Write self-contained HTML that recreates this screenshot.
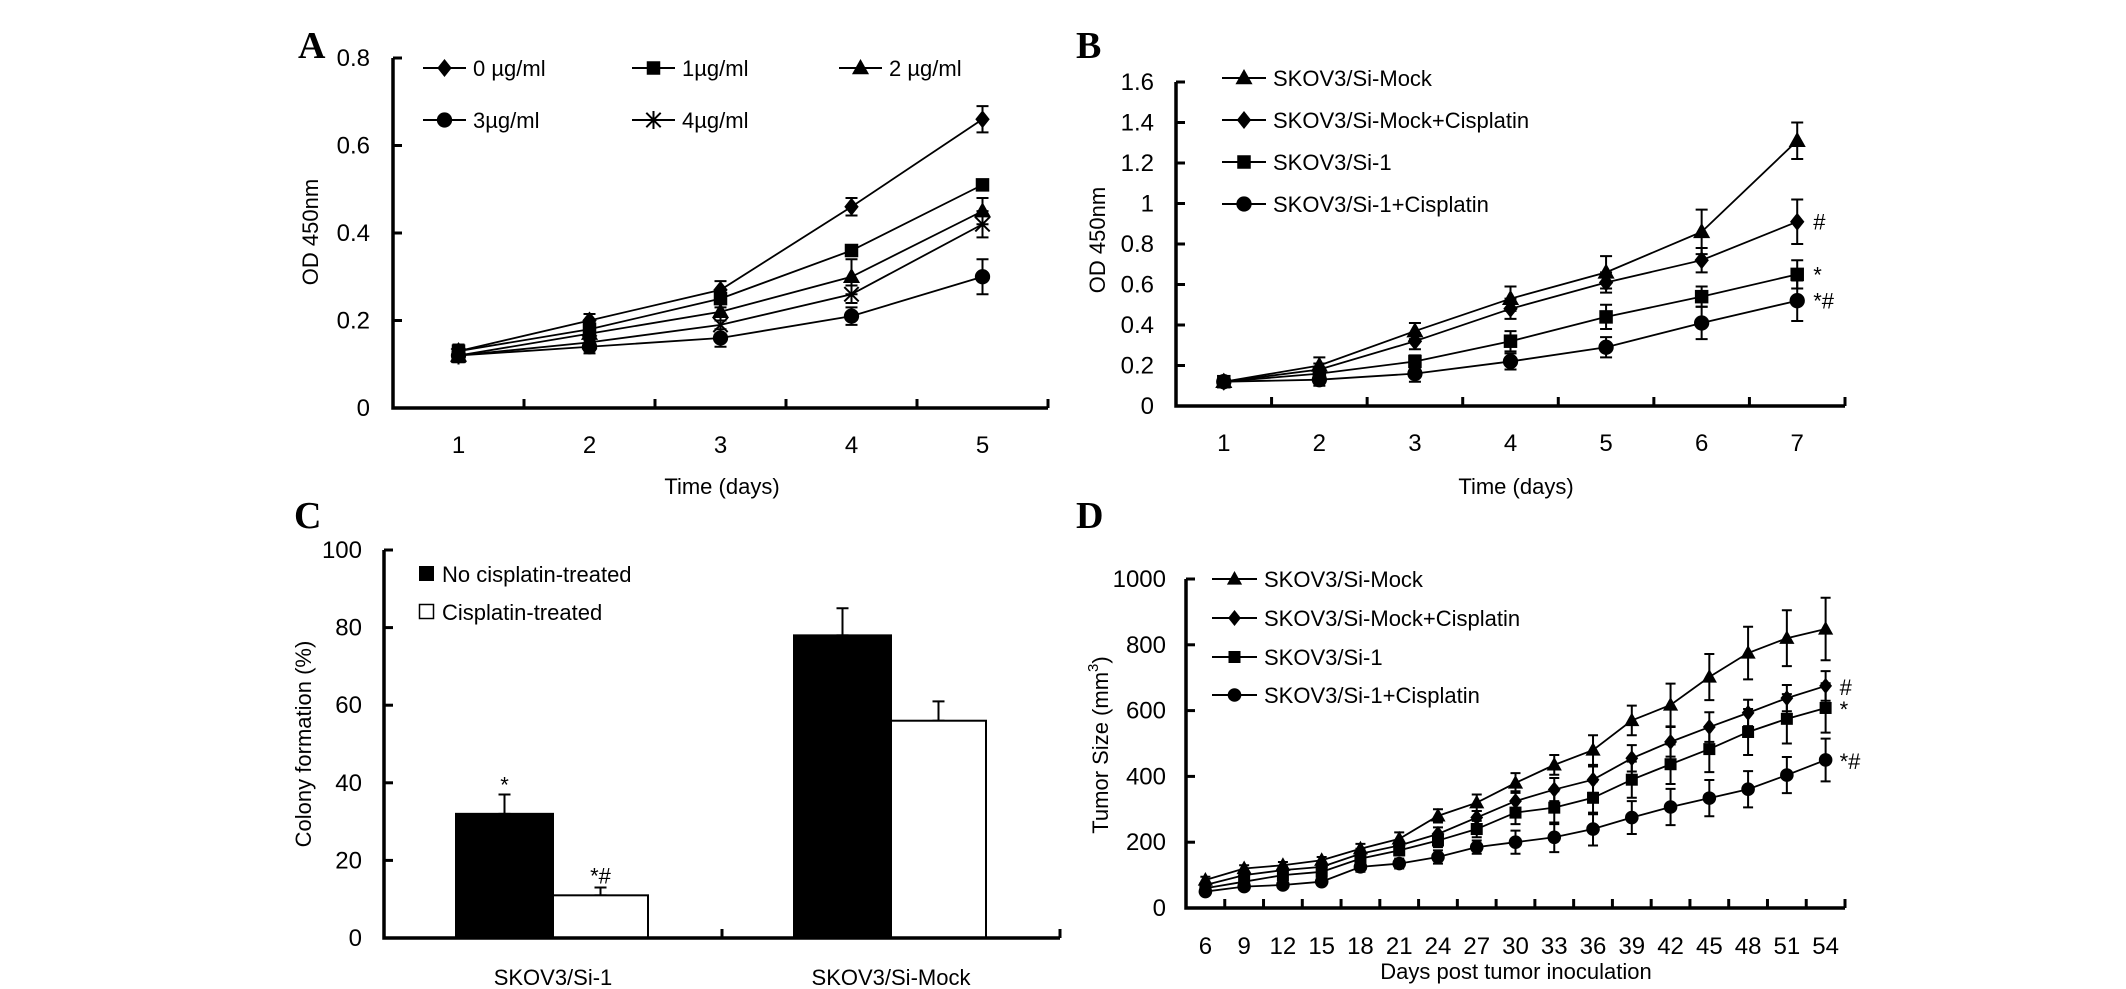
<!DOCTYPE html>
<html><head><meta charset="utf-8">
<style>
html,body{margin:0;padding:0;background:#fff;}
svg{display:block;font-family:"Liberation Sans",Arial,sans-serif;}
.tk{font-size:24px;fill:#000;}
.lg{font-size:22px;fill:#000;}
.ttl{font-size:22px;fill:#000;}
.pl{font-family:"Liberation Serif",serif;font-weight:bold;font-size:38px;fill:#000;}
</style></head>
<body>
<svg id="fig" width="2126" height="989" viewBox="0 0 2126 989" xmlns="http://www.w3.org/2000/svg">
<rect x="0" y="0" width="2126" height="989" fill="#fff"/>
<text class="pl" x="298" y="58">A</text>
<text class="pl" x="1076" y="58">B</text>
<text class="pl" x="294" y="528">C</text>
<text class="pl" x="1076" y="528">D</text>
</svg>
<script>
// ---- Panel A data ----
const aCategories = [1, 2, 3, 4, 5];
const aTicks = [0, 0.2, 0.4, 0.6, 0.8];
const aNames = ["0 µg/ml", "1µg/ml", "2 µg/ml", "3µg/ml", "4µg/ml"];
const aMarkers = ["diamond", "square", "triangle", "circle", "star"];
const a0 = [0.13, 0.20, 0.27, 0.46, 0.66];
const a1 = [0.13, 0.18, 0.25, 0.36, 0.51];
const a2 = [0.12, 0.17, 0.22, 0.30, 0.45];
const a3 = [0.12, 0.14, 0.16, 0.21, 0.30];
const a4 = [0.12, 0.15, 0.19, 0.26, 0.42];
const a0Err = [0.015, 0.015, 0.02, 0.02, 0.03];
const a1Err = [0.015, 0.015, 0.02, 0.01, 0.01];
const a2Err = [0.015, 0.015, 0.02, 0.04, 0.03];
const a3Err = [0.015, 0.015, 0.02, 0.02, 0.04];
const a4Err = [0.015, 0.015, 0.02, 0.02, 0.03];

// ---- Panel B data ----
const bCategories = [1, 2, 3, 4, 5, 6, 7];
const bTicks = [0, 0.2, 0.4, 0.6, 0.8, 1, 1.2, 1.4, 1.6];
const bNames = ["SKOV3/Si-Mock", "SKOV3/Si-Mock+Cisplatin", "SKOV3/Si-1", "SKOV3/Si-1+Cisplatin"];
const bMarkers = ["triangle", "diamond", "square", "circle"];
const bMock = [0.12, 0.20, 0.37, 0.53, 0.66, 0.86, 1.31];
const bMockCis = [0.12, 0.18, 0.32, 0.48, 0.61, 0.72, 0.91];
const bSi1 = [0.12, 0.16, 0.22, 0.32, 0.44, 0.54, 0.65];
const bSi1Cis = [0.12, 0.13, 0.16, 0.22, 0.29, 0.41, 0.52];
const bMockErr = [0.02, 0.04, 0.04, 0.06, 0.08, 0.11, 0.09];
const bMockCisErr = [0.02, 0.03, 0.04, 0.05, 0.05, 0.06, 0.11];
const bSi1Err = [0.02, 0.03, 0.03, 0.05, 0.06, 0.05, 0.07];
const bSi1CisErr = [0.02, 0.03, 0.04, 0.04, 0.05, 0.08, 0.10];
const bNotes = ["", "#", "*", "*#"];

// ---- Panel C data ----
const cCategories = ["SKOV3/Si-1", "SKOV3/Si-Mock"];
const cTicks = [0, 20, 40, 60, 80, 100];
const cNoCis = [32, 78];
const cCis = [11, 56];
const cNoCisErr = [5, 7];
const cCisErr = [2, 5];
const cNoCisNotes = ["*", ""];
const cCisNotes = ["*#", ""];

// ---- Panel D data ----
const dCategories = [6, 9, 12, 15, 18, 21, 24, 27, 30, 33, 36, 39, 42, 45, 48, 51, 54];
const dTicks = [0, 200, 400, 600, 800, 1000];
const dMock = [85, 120, 130, 145, 180, 210, 280, 320, 380, 435, 480, 570, 617, 702, 775, 820, 848];
const dMockCis = [70, 100, 115, 125, 165, 190, 225, 275, 325, 360, 390, 455, 505, 550, 593, 638, 675];
const dSi1 = [60, 80, 100, 110, 150, 175, 205, 240, 290, 305, 335, 390, 437, 483, 535, 575, 608];
const dSi1Cis = [50, 65, 70, 80, 125, 135, 155, 185, 200, 215, 240, 275, 307, 334, 361, 404, 450];
const dMockErr = [10, 10, 10, 10, 15, 20, 20, 25, 30, 30, 45, 45, 65, 70, 80, 85, 95];
const dMockCisErr = [10, 10, 10, 10, 15, 15, 20, 20, 30, 35, 40, 40, 45, 45, 40, 40, 45];
const dSi1Err = [10, 10, 10, 10, 15, 15, 20, 25, 35, 50, 50, 55, 60, 70, 70, 75, 75];
const dSi1CisErr = [10, 10, 10, 10, 15, 15, 20, 20, 35, 45, 50, 50, 55, 55, 55, 55, 65];

const NS = "http://www.w3.org/2000/svg";
const svg = document.getElementById("fig");
function mk(tag, attrs, parent) {
  const e = document.createElementNS(NS, tag);
  for (const k in attrs) e.setAttribute(k, attrs[k]);
  parent.appendChild(e);
  return e;
}
function txt(parent, x, y, s, cls, anchor) {
  const t = mk("text", {x: x, y: y, class: cls, "text-anchor": anchor || "start"}, parent);
  t.textContent = s;
  return t;
}
function marker(parent, type, cx, cy, s) {
  let e;
  if (type === "diamond") e = mk("polygon", {points: `${cx},${cy-s} ${cx+s*0.8},${cy} ${cx},${cy+s} ${cx-s*0.8},${cy}`, fill: "#000"}, parent);
  else if (type === "square") e = mk("rect", {x: cx-s*0.75, y: cy-s*0.75, width: s*1.5, height: s*1.5, fill: "#000"}, parent);
  else if (type === "triangle") e = mk("polygon", {points: `${cx},${cy-s} ${cx+s*0.95},${cy+s*0.7} ${cx-s*0.95},${cy+s*0.7}`, fill: "#000"}, parent);
  else if (type === "circle") e = mk("circle", {cx: cx, cy: cy, r: s*0.85, fill: "#000"}, parent);
  else {
    e = mk("path", {d: `M${cx-s*0.8},${cy-s*0.8}L${cx+s*0.8},${cy+s*0.8}M${cx+s*0.8},${cy-s*0.8}L${cx-s*0.8},${cy+s*0.8}M${cx},${cy-s}L${cx},${cy+s}`, stroke: "#000", "stroke-width": 2, fill: "none"}, parent);
  }
  return e;
}
function errbar(parent, x, y1, y2, cap) {
  return mk("path", {d: `M${x},${y1}L${x},${y2}M${x-cap},${y1}L${x+cap},${y1}M${x-cap},${y2}L${x+cap},${y2}`, stroke: "#000", "stroke-width": 2, fill: "none"}, parent);
}
function axes(parent, x0, x1, y0, yTop, ticks, yScale, fmt, nCat, labelRight) {
  const ax = mk("path", {d: `M${x0},${yTop}L${x0},${y0}L${x1},${y0}`, stroke: "#000", "stroke-width": 3.5, fill: "none"}, parent);
  
  
  ticks.forEach(v => {
    const y = yScale(v);
    mk("line", {x1: x0, x2: x0 + 9, y1: y, y2: y, stroke: "#000", "stroke-width": 3}, parent);
    const t = txt(parent, labelRight, y + 8, fmt(v), "tk", "end");
    
    
  });
  const w = (x1 - x0) / nCat;
  for (let i = 1; i <= nCat; i++) {
    mk("line", {x1: x0 + i*w, x2: x0 + i*w, y1: y0, y2: y0 - 9, stroke: "#000", "stroke-width": 3}, parent);
  }
}
function series(parent, xs, vals, errs, yScale, type, s, cap) {
  const d = vals.map((v, i) => (i ? "L" : "M") + xs(i) + "," + yScale(v)).join("");
  const ln = mk("path", {d: d, stroke: "#000", "stroke-width": 1.8, fill: "none"}, parent);
  
  
  vals.forEach((v, i) => {
    const eb = errbar(parent, xs(i), yScale(v + errs[i]), yScale(v - errs[i]), cap);
    
    
    const m = marker(parent, type, xs(i), yScale(v), s);
    
    
  });
}
function legendEntry(parent, lx1, lx2, y, type, s, label) {
  const g = mk("g", {}, parent);
  
  
  mk("line", {x1: lx1, x2: lx2, y1: y, y2: y, stroke: "#000", "stroke-width": 2}, g);
  marker(g, type, (lx1 + lx2) / 2, y, s);
  txt(g, lx2 + 7, y + 8, label, "lg");
}
function rotTitle(parent, x, y, s) {
  const t = txt(parent, x, y, s, "ttl", "middle");
  t.setAttribute("transform", `rotate(-90 ${x} ${y})`);
  return t;
}

// ================= Panel A =================
const gA = mk("g", {}, svg);


const aX0 = 393, aX1 = 1048, aY0 = 408, aYT = 58;
const yA = v => aY0 - v / 0.8 * (aY0 - aYT);
const xA = i => aX0 + (i + 0.5) * (aX1 - aX0) / aCategories.length;
axes(gA, aX0, aX1, aY0, aYT, aTicks, yA, v => v === 0 ? "0" : v.toFixed(1), aCategories.length, 370);
aCategories.forEach((c, i) => {
  const t = txt(gA, xA(i), 453, String(c), "tk", "middle");
  
  
});
const aXT = txt(gA, 722, 494, "Time (days)", "ttl", "middle");


const aYTl = rotTitle(gA, 318, 232, "OD 450nm");


[a0, a1, a2, a3, a4].forEach((vals, k) => {
  series(gA, xA, vals, [a0Err, a1Err, a2Err, a3Err, a4Err][k], yA, aMarkers[k], 9, 6);
});
const aLegPos = [[423, 68], [632, 68], [839, 68], [423, 120], [632, 120]];
aNames.forEach((n, k) => legendEntry(gA, aLegPos[k][0], aLegPos[k][0] + 43, aLegPos[k][1], aMarkers[k], 9, n));

// ================= Panel B =================
const gB = mk("g", {}, svg);


const bX0 = 1176, bX1 = 1845, bY0 = 406, bYT = 82;
const yB = v => bY0 - v / 1.6 * (bY0 - bYT);
const xB = i => bX0 + (i + 0.5) * (bX1 - bX0) / bCategories.length;
axes(gB, bX0, bX1, bY0, bYT, bTicks, yB, v => (v === 0 || v === 1) ? String(v) : v.toFixed(1), bCategories.length, 1154);
bCategories.forEach((c, i) => {
  const t = txt(gB, xB(i), 451, String(c), "tk", "middle");
  
  
});
const bXT = txt(gB, 1516, 494, "Time (days)", "ttl", "middle");


const bYTl = rotTitle(gB, 1105, 240, "OD 450nm");


const bSeries = [bMock, bMockCis, bSi1, bSi1Cis];
const bErrs = [bMockErr, bMockCisErr, bSi1Err, bSi1CisErr];
bSeries.forEach((vals, k) => {
  series(gB, xB, vals, bErrs[k], yB, bMarkers[k], 9, 6);
  if (bNotes[k]) {
    const n = txt(gB, xB(vals.length - 1) + 16, yB(vals[vals.length - 1]) + 8, bNotes[k], "lg");
    
    
  }
});
const bLegY = [78, 120, 162, 204];
bNames.forEach((n, k) => legendEntry(gB, 1222, 1266, bLegY[k], bMarkers[k], 9, n));

// ================= Panel C =================
const gC = mk("g", {}, svg);


const cX0 = 384, cX1 = 1060, cY0 = 938, cYT = 550;
const yC = v => cY0 - v / 100 * (cY0 - cYT);
const cW = (cX1 - cX0) / cCategories.length;
cCategories.forEach((c, i) => {
  const gs = cX0 + i * cW;
  const bx1 = gs + 72, bx2 = gs + 169, bx3 = gs + 264;
  const eb1 = errbar(gC, (bx1 + bx2) / 2, yC(cNoCis[i] + cNoCisErr[i]), yC(cNoCis[i]), 6);
  
  
  const eb2 = errbar(gC, (bx2 + bx3) / 2, yC(cCis[i] + cCisErr[i]), yC(cCis[i]), 6);
  
  
  const r1 = mk("rect", {x: bx1, y: yC(cNoCis[i]), width: bx2 - bx1, height: cY0 - yC(cNoCis[i]), fill: "#000", stroke: "#000", "stroke-width": 2}, gC);
  
  
  const r2 = mk("rect", {x: bx2, y: yC(cCis[i]), width: bx3 - bx2, height: cY0 - yC(cCis[i]), fill: "#fff", stroke: "#000", "stroke-width": 2}, gC);
  
  
  if (cNoCisNotes[i]) {
    const n = txt(gC, (bx1 + bx2) / 2, yC(cNoCis[i] + cNoCisErr[i]) - 2, cNoCisNotes[i], "lg", "middle");
    
    
  }
  if (cCisNotes[i]) {
    const n = txt(gC, (bx2 + bx3) / 2, yC(cCis[i] + cCisErr[i]) - 4, cCisNotes[i], "lg", "middle");
    
    
  }
  const t = txt(gC, gs + cW / 2, 985, c, "ttl", "middle");
  
  
});
axes(gC, cX0, cX1, cY0, cYT, cTicks, yC, v => String(v), cCategories.length, 362);
const cYTl = rotTitle(gC, 311, 744, "Colony formation (%)");


const cl1 = mk("g", {}, gC);


mk("rect", {x: 419, y: 566, width: 15, height: 15, fill: "#000"}, cl1);
txt(cl1, 442, 582, "No cisplatin-treated", "lg");
const cl2 = mk("g", {}, gC);


mk("rect", {x: 419.5, y: 604.5, width: 14, height: 14, fill: "#fff", stroke: "#000", "stroke-width": 1.5}, cl2);
txt(cl2, 442, 620, "Cisplatin-treated", "lg");

// ================= Panel D =================
const gD = mk("g", {}, svg);


const dX0 = 1186, dX1 = 1845, dY0 = 908, dYT = 579;
const yD = v => dY0 - v / 1000 * (dY0 - dYT);
const xD = i => dX0 + (i + 0.5) * (dX1 - dX0) / dCategories.length;
axes(gD, dX0, dX1, dY0, dYT, dTicks, yD, v => String(v), dCategories.length, 1166);
dCategories.forEach((c, i) => {
  const t = txt(gD, xD(i), 954, String(c), "tk", "middle");
  
  
});
const dXT = txt(gD, 1516, 979, "Days post tumor inoculation", "ttl", "middle");


const dYTl = mk("text", {x: 1108, y: 745, class: "ttl", "text-anchor": "middle", transform: "rotate(-90 1108 745)"}, gD);


dYTl.appendChild(document.createTextNode("Tumor Size (mm"));
const sup = mk("tspan", {dy: -10, "font-size": 15}, dYTl);
sup.textContent = "3";
const cl = mk("tspan", {dy: 10}, dYTl);
cl.textContent = ")";
const dSeries = [dMock, dMockCis, dSi1, dSi1Cis];
const dErrs = [dMockErr, dMockCisErr, dSi1Err, dSi1CisErr];
dSeries.forEach((vals, k) => {
  series(gD, xD, vals, dErrs[k], yD, bMarkers[k], 8, 5);
  if (bNotes[k]) {
    const n = txt(gD, xD(vals.length - 1) + 14, yD(vals[vals.length - 1]) + 9, bNotes[k], "lg");
    
    
  }
});
const dLegY = [579, 618, 657, 695];
bNames.forEach((n, k) => legendEntry(gD, 1212, 1257, dLegY[k], bMarkers[k], 8, n));
</script>
</body></html>
